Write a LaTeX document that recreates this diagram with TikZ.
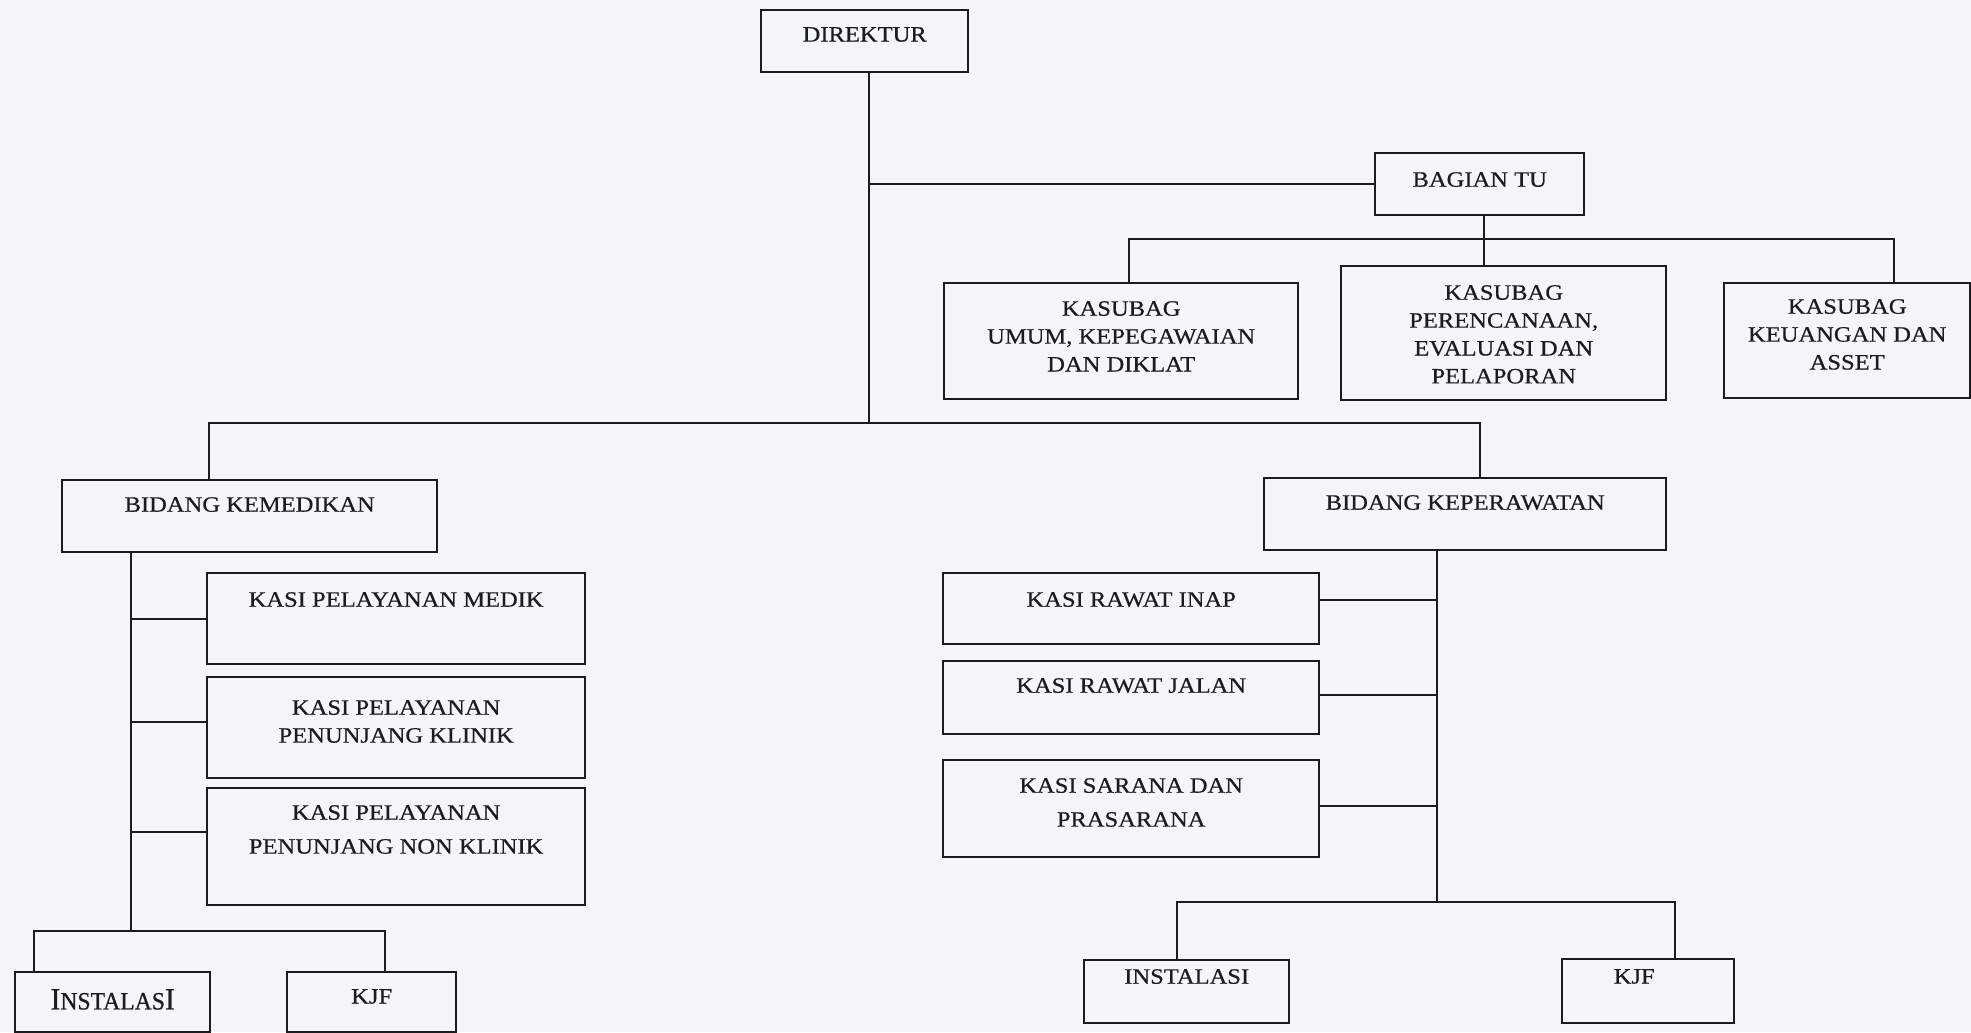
\documentclass[tikz,border=0pt]{standalone}
\usepackage{fontspec}
\setmainfont{Liberation Serif}[FakeStretch=1.12,FakeBold=0.6]
\newfontfamily\narrowfont{Liberation Serif}[FakeStretch=0.95,FakeBold=0.6]
\usetikzlibrary{positioning}

\definecolor{paper}{RGB}{242,246,250}
\definecolor{ink}{RGB}{28,28,32}

\tikzset{
  unit/.style={draw=ink, line width=2.4bp, inner sep=0pt, anchor=north west},
  size/.style 2 args={minimum width=#1bp, minimum height=#2bp},
  lbl/.style={inner sep=0pt, align=center, text=ink, font=\fontsize{22}{28}\selectfont},
  link/.style={draw=ink, line width=2bp},
}

\begin{document}
\begin{tikzpicture}[x=1bp,y=-1bp]
  \useasboundingbox (0,0) rectangle (1971,1032);
  \clip (0,0) rectangle (1971,1032);
  \fill[paper] (0,0) rectangle (1971,1032);

  % direktur and bagian tu
  \node[unit, size={207}{62}] (dir) at (760,9) {};
  \node[lbl, below=18bp of dir.north] (dir-t) {DIREKTUR};
  \node[unit, size={209}{62}] (tu) at (1374,152) {};
  \node[lbl, below=20bp of tu.north] (tu-t) {BAGIAN TU};

  % kasubag
  \node[unit, size={354}{116}] (umum) at (943,282) {};
  \node[lbl, below=19bp of umum.north] (umum-t) {KASUBAG\\UMUM, KEPEGAWAIAN\\DAN DIKLAT};
  \node[unit, size={325}{134}] (renc) at (1340,265) {};
  \node[lbl, below=20bp of renc.north] (renc-t) {KASUBAG\\PERENCANAAN,\\EVALUASI DAN\\PELAPORAN};
  \node[unit, size={246}{115}] (keu) at (1723,282) {};
  \node[lbl, below=17bp of keu.north] (keu-t) {KASUBAG\\KEUANGAN DAN\\ASSET};

  % bidang
  \node[unit, size={375}{72}] (kemed) at (61,479) {};
  \node[lbl, below=18bp of kemed.north] (kemed-t) {BIDANG KEMEDIKAN};
  \node[unit, size={402}{72}] (keper) at (1263,477) {};
  \node[lbl, below=18bp of keper.north] (keper-t) {BIDANG KEPERAWATAN};

  % kasi under kemedikan
  \node[unit, size={378}{91}] (medik) at (206,572) {};
  \node[lbl, below=20bp of medik.north] (medik-t) {KASI PELAYANAN MEDIK};
  \node[unit, size={378}{101}] (klin) at (206,676) {};
  \node[lbl, below=24bp of klin.north] (klin-t) {KASI PELAYANAN\\PENUNJANG KLINIK};
  \node[unit, size={378}{117}] (nonkl) at (206,787) {};
  \node[lbl, below=18bp of nonkl.north] (nonkl-t) {KASI PELAYANAN\\[6bp]PENUNJANG NON KLINIK};

  % kasi under keperawatan
  \node[unit, size={376}{71}] (inap) at (942,572) {};
  \node[lbl, below=20bp of inap.north] (inap-t) {KASI RAWAT INAP};
  \node[unit, size={376}{73}] (jalan) at (942,660) {};
  \node[lbl, below=18bp of jalan.north] (jalan-t) {KASI RAWAT JALAN};
  \node[unit, size={376}{97}] (sarana) at (942,759) {};
  \node[lbl, below=19bp of sarana.north] (sarana-t) {KASI SARANA DAN\\[6bp]PRASARANA};

  % instalasi / kjf
  \node[unit, size={195}{60}] (instl) at (14,971) {};
  \node[lbl, below=18bp of instl.north] (instl-t)
    {\narrowfont{\fontsize{31}{31}\selectfont I}{\fontsize{25}{28}\selectfont NSTALAS}{\fontsize{31}{31}\selectfont I}};
  \node[unit, size={169}{60}] (kjfl) at (286,971) {};
  \node[lbl, below=18bp of kjfl.north] (kjfl-t) {KJF};
  \node[unit, size={205}{63}] (instr) at (1083,959) {};
  \node[lbl, below=10bp of instr.north] (instr-t) {INSTALASI};
  \node[unit, size={172}{64}] (kjfr) at (1561,958) {};
  \node[lbl, below=11bp of kjfr.north, xshift=-14bp] (kjfr-t) {KJF};

  % main lines
  \coordinate (bus) at (869,423);
  \draw[link] (dir.south -| bus) -- (bus);
  \draw[link] (bus |- tu.west) -- (tu.west);
  \draw[link] ([xshift=148bp]kemed.north west) |- (bus) -| ([xshift=217bp]keper.north west);

  % bagian tu to kasubag
  \coordinate (tubar) at (1484,239);
  \draw[link] (tu.south -| tubar) -- (tubar |- renc.north);
  \draw[link] ([xshift=8bp]umum.north) |- (tubar) -| ([xshift=47bp]keu.north);

  % kemedikan column
  \coordinate (spl) at (131,931);
  \draw[link] (kemed.south -| spl) -- (spl);
  \draw[link] (medik.west) -| (spl);
  \draw[link] ([yshift=6bp]klin.west) -| (spl);
  \draw[link] ([yshift=15bp]nonkl.west) -| (spl);
  \draw[link] ([xshift=20bp]instl.north west) |- (spl) -| ([xshift=99bp]kjfl.north west);

  % keperawatan column
  \coordinate (spr) at (1437,902);
  \draw[link] (keper.south -| spr) -- (spr);
  \draw[link] ([yshift=9bp]inap.east) -| (spr);
  \draw[link] ([yshift=3bp]jalan.east) -| (spr);
  \draw[link] ([yshift=3bp]sarana.east) -| (spr);
  \draw[link] ([xshift=-10bp]instr.north) |- (spr) -| ([xshift=27bp]kjfr.north);
\end{tikzpicture}
\end{document}
